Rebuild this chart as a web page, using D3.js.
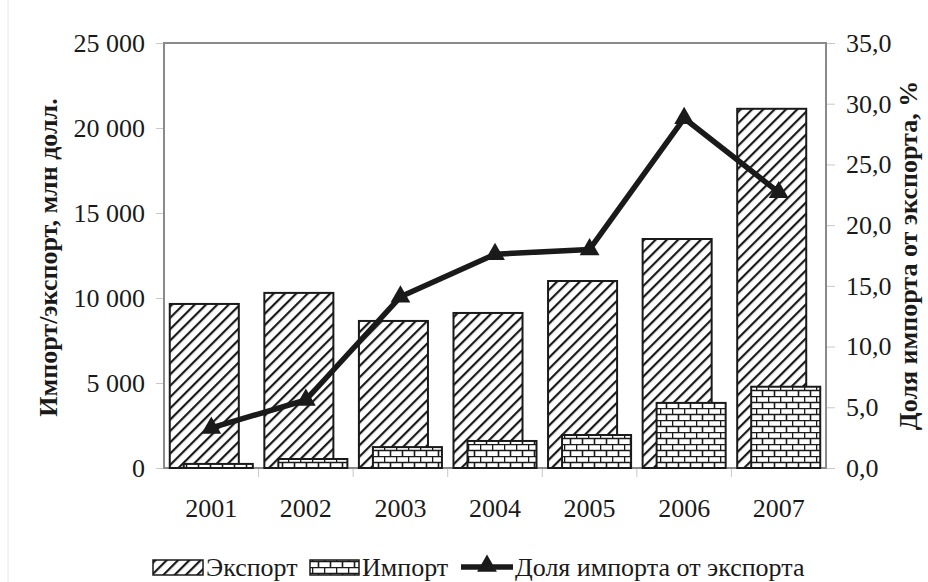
<!DOCTYPE html>
<html>
<head>
<meta charset="utf-8">
<script src="https://cdn.jsdelivr.net/npm/d3@7"></script>
<style>
  body { margin: 0; background: #fff; }
</style>
</head>
<body>
<svg id="chart" width="928" height="582"></svg>
<script>
const years = ['2001', '2002', '2003', '2004', '2005', '2006', '2007']
const exportVals = [9650, 10300, 8650, 9120, 11000, 13470, 21130]
const importVals = [240, 530, 1230, 1590, 1940, 3830, 4780]
const shareVals = [3.3, 5.6, 14.1, 17.6, 18.0, 28.8, 22.7]
const leftTicks = [0, 5000, 10000, 15000, 20000, 25000]
const rightTicks = [0, 5, 10, 15, 20, 25, 30, 35]

const FONT = '"Liberation Serif"'

const margin = { top: 43, right: 102, bottom: 114, left: 164 }
const width = 928 - (margin.left + margin.right)
const height = 582 - (margin.top + margin.bottom)

const svg = d3.select('#chart')

// patterns
const defs = svg.append('defs')
const hatch = defs.append('pattern')
  .attr('id', 'hatch')
  .attr('patternUnits', 'userSpaceOnUse')
  .attr('width', 8)
  .attr('height', 8)
  .attr('patternTransform', 'rotate(45)')
hatch.append('rect').attr('width', 8).attr('height', 8).attr('fill', '#fff')
hatch.append('line')
  .attr('x1', 0).attr('y1', 0).attr('x2', 0).attr('y2', 8)
  .attr('stroke', '#1a1a1a').attr('stroke-width', 4.4)

const brick = defs.append('pattern')
  .attr('id', 'brick')
  .attr('patternUnits', 'userSpaceOnUse')
  .attr('width', 12)
  .attr('height', 12)
brick.append('rect').attr('width', 12).attr('height', 12).attr('fill', '#fff')
brick.append('path')
  .attr('d', 'M0,0.5H12M0,6.5H12M0.5,0V6M6.5,6V12')
  .attr('stroke', '#1a1a1a').attr('stroke-width', 1.6).attr('fill', 'none')

// faint page edge
svg.append('line')
  .attr('x1', 8).attr('x2', 8).attr('y1', 0).attr('y2', 582)
  .attr('stroke', '#e6e6e6').attr('stroke-width', 1)

const xScale = d3.scaleBand()
  .domain(years)
  .range([margin.left, margin.left + width])

const yLeft = d3.scaleLinear()
  .domain([0, 25000])
  .range([margin.top + height, margin.top])

const yRight = d3.scaleLinear()
  .domain([0, 35])
  .range([margin.top + height, margin.top])

const fmtLeft = d => d3.format(',')(d).replace(/,/g, ' ')
const fmtRight = d => d3.format('.1f')(d).replace('.', ',')

// axes
const leftAxis = d3.axisLeft(yLeft).tickValues(leftTicks).tickFormat(fmtLeft).tickSize(8).tickPadding(11)
const rightAxis = d3.axisRight(yRight).tickValues(rightTicks).tickFormat(fmtRight).tickSize(9).tickPadding(11)

const gl = svg.append('g')
  .attr('transform', `translate(${margin.left}, 0)`)
  .call(leftAxis)
const gr = svg.append('g')
  .attr('transform', `translate(${margin.left + width}, 0)`)
  .call(rightAxis)

;[gl, gr].forEach(g => {
  g.select('.domain').remove()
  g.selectAll('.tick line').attr('stroke', '#c8c8c8')
  g.selectAll('.tick text').attr('fill', '#1a1a1a')
})

// category boundary ticks
svg.append('g')
  .selectAll('line')
  .data(years.slice(1))
  .join('line')
  .attr('x1', d => xScale(d))
  .attr('x2', d => xScale(d))
  .attr('y1', margin.top + height)
  .attr('y2', margin.top + height + 9)
  .attr('stroke', '#c8c8c8')

svg.append('g')
  .selectAll('text')
  .data(years)
  .join('text')
  .attr('x', d => xScale(d) + xScale.bandwidth() / 2)
  .attr('y', 517)
  .attr('text-anchor', 'middle')
  .attr('fill', '#1a1a1a')
  .text(d => d)

// plot frame
svg.append('rect')
  .attr('x', margin.left)
  .attr('y', margin.top)
  .attr('width', width)
  .attr('height', height)
  .attr('fill', 'none')
  .attr('stroke', '#8a8a8a')
  .attr('stroke-width', 2)

const bw = xScale.bandwidth()
const barW = bw * 0.73
const offset = bw * 0.148
const clusterStart = d => xScale(d) + bw / 2 - (barW + offset) / 2

const graph = svg.append('g')

graph.selectAll('.exp')
  .data(years)
  .join('rect')
  .attr('class', 'exp')
  .attr('x', d => clusterStart(d))
  .attr('width', barW)
  .attr('y', (d, i) => yLeft(exportVals[i]))
  .attr('height', (d, i) => yLeft(0) - yLeft(exportVals[i]))
  .attr('fill', 'url(#hatch)')
  .attr('stroke', '#1a1a1a')
  .attr('stroke-width', 2)

graph.selectAll('.imp')
  .data(years)
  .join('rect')
  .attr('class', 'imp')
  .attr('x', d => clusterStart(d) + offset)
  .attr('width', barW)
  .attr('y', (d, i) => yLeft(importVals[i]))
  .attr('height', (d, i) => yLeft(0) - yLeft(importVals[i]))
  .attr('fill', 'url(#brick)')
  .attr('stroke', '#1a1a1a')
  .attr('stroke-width', 2)

const linegen = d3.line()
  .x(d => xScale(d.year) + bw / 2)
  .y(d => yRight(d.value))

const shareData = years.map((y, i) => ({ year: y, value: shareVals[i] }))

graph.append('path')
  .attr('d', linegen(shareData))
  .attr('stroke', '#1a1a1a')
  .attr('stroke-width', 5.5)
  .attr('stroke-linejoin', 'round')
  .attr('fill', 'none')

const tri = d3.symbol().type(d3.symbolTriangle).size(170)
graph.selectAll('.mark')
  .data(shareData)
  .join('path')
  .attr('class', 'mark')
  .attr('d', tri)
  .attr('transform', d => `translate(${xScale(d.year) + bw / 2}, ${yRight(d.value)})`)
  .attr('fill', '#1a1a1a')

// axis titles
svg.append('text')
  .attr('transform', `translate(57, ${margin.top + height / 2 + 2}) rotate(-90)`)
  .attr('text-anchor', 'middle')
  .attr('font-weight', 'bold')
  .attr('fill', '#1a1a1a')
  .text('Импорт/экспорт, млн долл.')

svg.append('text')
  .attr('transform', `translate(917, ${margin.top + height / 2}) rotate(-90)`)
  .attr('text-anchor', 'middle')
  .attr('font-weight', 'bold')
  .attr('fill', '#1a1a1a')
  .text('Доля импорта от экспорта, %')

// legend
const legend = svg.append('g').attr('transform', 'translate(0, 567)')
legend.append('rect')
  .attr('x', 153).attr('y', -7).attr('width', 50).attr('height', 15)
  .attr('fill', 'url(#hatch)').attr('stroke', '#1a1a1a').attr('stroke-width', 1.5)
legend.append('text').attr('x', 206).attr('y', 9).attr('fill', '#1a1a1a').text('Экспорт')

legend.append('rect')
  .attr('x', 310).attr('y', -7).attr('width', 49).attr('height', 15)
  .attr('fill', 'url(#brick)').attr('stroke', '#1a1a1a').attr('stroke-width', 1.5)
legend.append('text').attr('x', 362).attr('y', 9).attr('fill', '#1a1a1a').text('Импорт')

legend.append('line')
  .attr('x1', 461).attr('x2', 513).attr('y1', 0).attr('y2', 0)
  .attr('stroke', '#1a1a1a').attr('stroke-width', 5.5)
legend.append('path').attr('d', tri).attr('transform', 'translate(487, -1)').attr('fill', '#1a1a1a')
legend.append('text').attr('x', 515).attr('y', 9).attr('fill', '#1a1a1a').text('Доля импорта от экспорта')

// one font for every text element
svg.selectAll('text')
  .style('font-family', FONT)
  .style('font-size', '26px')
</script>
</body>
</html>
